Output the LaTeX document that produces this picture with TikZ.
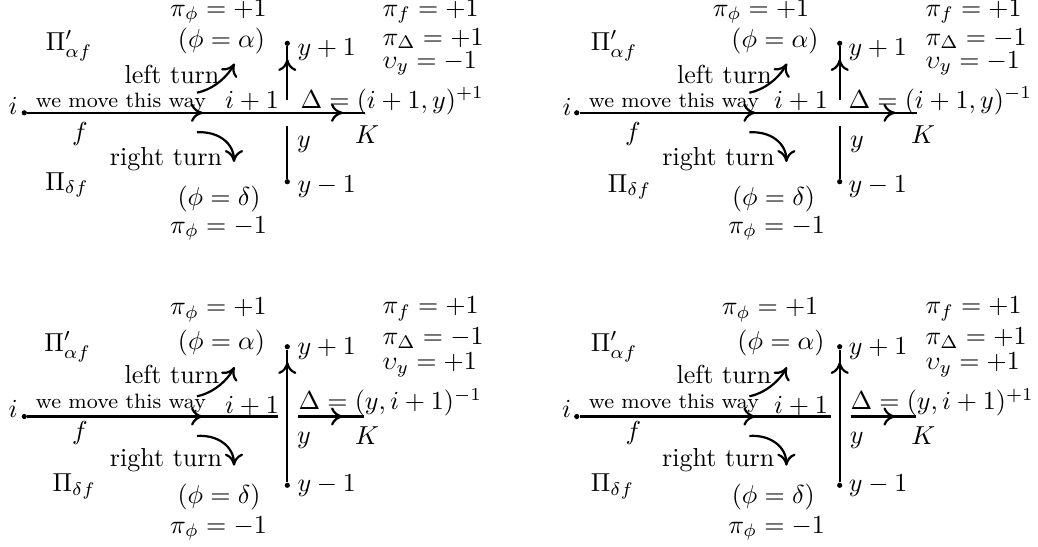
\documentclass[tikz,border=0pt]{standalone}
\usetikzlibrary{arrows.meta}
\tikzset{
  lbl/.style={inner sep=0pt, anchor=base},
  lblw/.style={inner sep=0pt, anchor=base west},
  ln/.style={line width=0.85pt},
  arr/.style={line width=0.85pt, -{To[length=4.6pt,width=7pt]}},
  dotn/.style={circle, fill, inner sep=0pt, minimum size=2pt},
}
% shapes of the upper panels (prefix #1)
\newcommand{\myshapesTop}[1]{%
  \node[dotn] (#1-i) at (24.3,112.8) {};
  \coordinate (#1-t1) at (203,112.8);
  \coordinate (#1-t2) at (343,112.8);
  \coordinate (#1-e) at (365,112.8);
  \draw[ln] (#1-i) -- (#1-e);
  \draw[arr] (#1-i) -- (#1-t1);
  \draw[arr] (#1-i) -- (#1-t2);
  \node[dotn] (#1-up) at (287.3,43.3) {};
  \node[dotn] (#1-dn) at (287.3,181.7) {};
  \coordinate (#1-v0) at (287.3,100);
  \coordinate (#1-v1) at (287.3,126);
  \coordinate (#1-vt) at (287.3,59);
  \draw[ln] (#1-v0) -- (#1-up);
  \draw[arr] (#1-v0) -- (#1-vt);
  \draw[ln] (#1-v1) -- (#1-dn);
  \coordinate (#1-ls) at (197,92.7);
  \coordinate (#1-le) at (234.5,63.5);
  \draw[arr] (#1-ls) .. controls (211,90) and (226,79) .. (#1-le);
  \coordinate (#1-rs) at (197,132.3);
  \coordinate (#1-re) at (234,162);
  \draw[arr] (#1-rs) .. controls (218,131) and (234,143) .. (#1-re);
}
% shapes of the lower panels (prefix #1)
\newcommand{\myshapesBot}[1]{%
  \node[dotn] (#1-i) at (24.3,416.5) {};
  \coordinate (#1-t1) at (203,416.5);
  \coordinate (#1-e1) at (278.3,416.5);
  \draw[ln] (#1-i) -- (#1-e1);
  \draw[arr] (#1-i) -- (#1-t1);
  \coordinate (#1-s2) at (298.3,416.5);
  \coordinate (#1-t2) at (343,416.5);
  \coordinate (#1-e2) at (364,416.5);
  \draw[ln] (#1-s2) -- (#1-e2);
  \draw[arr] (#1-s2) -- (#1-t2);
  \node[dotn] (#1-up) at (287.3,346.7) {};
  \node[dotn] (#1-dn) at (287.3,485.3) {};
  \coordinate (#1-vt) at (287.3,362);
  \draw[ln] (#1-dn) -- (#1-up);
  \draw[arr] (#1-dn) -- (#1-vt);
  \coordinate (#1-ls) at (197,396.3);
  \coordinate (#1-le) at (234.5,367.1);
  \draw[arr] (#1-ls) .. controls (211,393.6) and (226,382.6) .. (#1-le);
  \coordinate (#1-rs) at (197,435.9);
  \coordinate (#1-re) at (234,465.6);
  \draw[arr] (#1-rs) .. controls (218,434.6) and (234,446.6) .. (#1-re);
}
\begin{document}
\begin{tikzpicture}[x=0.3846pt,y=-0.3846pt]
\useasboundingbox (0,0) rectangle (1038,546);

\myshapesTop{a}
\begin{scope}[shift={(552.4,0)}]\myshapesTop{b}\end{scope}
\myshapesBot{c}
\begin{scope}[shift={(552.4,0)}]\myshapesBot{d}\end{scope}

% ---- panel 1 labels
\node[lbl] (a-pphi) at (218.5,16) {$\pi_\phi = +1$};
\node[lblw] (a-pf) at (382,16) {$\pi_f = +1$};
\node[lbl] (a-Pa) at (69,50) {$\Pi'_{\alpha f}$};
\node[lbl] (a-pa) at (221.5,47) {$(\phi = \alpha)$};
\node[lblw] (a-yp) at (297,55) {$y+1$};
\node[lblw] (a-pD) at (382,45) {$\pi_\Delta = +1$};
\node[lblw] (a-uy) at (382,68) {$\upsilon_y = -1$};
\node[lbl] (a-lt) at (172,83) {left turn};
\node[lbl] (a-ip) at (252,108) {$i+1$};
\node[lblw] (a-D) at (300,108) {$\Delta = (i+1,y)^{+1}$};
\node[lbl] (a-wm) at (121,107) {\footnotesize we move this way};
\node[lbl] (a-il) at (13,114.5) {$i$};
\node[lbl] (a-f) at (80,140) {$f$};
\node[lbl] (a-K) at (367,143) {$K$};
\node[lbl] (a-y) at (304,147) {$y$};
\node[lbl] (a-rt) at (166,165) {right turn};
\node[lbl] (a-Pd) at (67,190) {$\Pi_{\delta f}$};
\node[lblw] (a-ym) at (297,192) {$y-1$};
\node[lbl] (a-pd) at (219,205) {$(\phi = \delta)$};
\node[lbl] (a-pm) at (218.5,233) {$\pi_\phi = -1$};

% ---- panel 2 labels
\node[lbl] (b-pphi) at (761,16) {$\pi_\phi = +1$};
\node[lblw] (b-pf) at (925,16) {$\pi_f = +1$};
\node[lbl] (b-Pa) at (614,50) {$\Pi'_{\alpha f}$};
\node[lbl] (b-pa) at (775,47) {$(\phi = \alpha)$};
\node[lblw] (b-yp) at (848,55) {$y+1$};
\node[lblw] (b-pD) at (925,45) {$\pi_\Delta = -1$};
\node[lblw] (b-uy) at (925,68) {$\upsilon_y = -1$};
\node[lbl] (b-lt) at (724.5,83) {left turn};
\node[lbl] (b-ip) at (801,108) {$i+1$};
\node[lblw] (b-D) at (848,108) {$\Delta = (i+1,y)^{-1}$};
\node[lbl] (b-wm) at (674,107) {\footnotesize we move this way};
\node[lbl] (b-il) at (567,115) {$i$};
\node[lbl] (b-f) at (633,140) {$f$};
\node[lbl] (b-K) at (923,143) {$K$};
\node[lbl] (b-y) at (857,147) {$y$};
\node[lbl] (b-rt) at (718.5,165) {right turn};
\node[lbl] (b-Pd) at (629.5,192) {$\Pi_{\delta f}$};
\node[lblw] (b-ym) at (848,192) {$y-1$};
\node[lbl] (b-pd) at (773.5,205) {$(\phi = \delta)$};
\node[lbl] (b-pm) at (776.5,233) {$\pi_\phi = -1$};

% ---- panel 3 labels
\node[lbl] (c-pphi) at (218.5,314.7) {$\pi_\phi = +1$};
\node[lblw] (c-pf) at (382,313.7) {$\pi_f = +1$};
\node[lbl] (c-Pa) at (67.5,351.3) {$\Pi'_{\alpha f}$};
\node[lbl] (c-pa) at (221.5,349.7) {$(\phi = \alpha)$};
\node[lblw] (c-yp) at (297,354.7) {$y+1$};
\node[lblw] (c-pD) at (382,344.7) {$\pi_\Delta = -1$};
\node[lblw] (c-uy) at (382,369.7) {$\upsilon_y = +1$};
\node[lbl] (c-lt) at (172,383) {left turn};
\node[lbl] (c-ip) at (252,413) {$i+1$};
\node[lblw] (c-D) at (298,409.7) {$\Delta = (y,i+1)^{-1}$};
\node[lbl] (c-wm) at (121,408) {\footnotesize we move this way};
\node[lbl] (c-il) at (13,417) {$i$};
\node[lbl] (c-f) at (80,439.7) {$f$};
\node[lbl] (c-K) at (367,444.7) {$K$};
\node[lbl] (c-y) at (304,443) {$y$};
\node[lbl] (c-rt) at (166,466.3) {right turn};
\node[lbl] (c-Pd) at (74.2,491.3) {$\Pi_{\delta f}$};
\node[lblw] (c-ym) at (297,491.3) {$y-1$};
\node[lbl] (c-pd) at (219,503) {$(\phi = \delta)$};
\node[lbl] (c-pm) at (218.5,533) {$\pi_\phi = -1$};

% ---- panel 4 labels
\node[lbl] (d-pphi) at (770,314.7) {$\pi_\phi = +1$};
\node[lblw] (d-pf) at (925,313.7) {$\pi_f = +1$};
\node[lbl] (d-Pa) at (614,351) {$\Pi'_{\alpha f}$};
\node[lbl] (d-pa) at (781,349.7) {$(\phi = \alpha)$};
\node[lblw] (d-yp) at (848.3,354.7) {$y+1$};
\node[lblw] (d-pD) at (925,344.7) {$\pi_\Delta = +1$};
\node[lblw] (d-uy) at (925,369.7) {$\upsilon_y = +1$};
\node[lbl] (d-lt) at (724,383) {left turn};
\node[lbl] (d-ip) at (801,413) {$i+1$};
\node[lblw] (d-D) at (850,409.7) {$\Delta = (y,i+1)^{+1}$};
\node[lbl] (d-wm) at (674,408) {\footnotesize we move this way};
\node[lbl] (d-il) at (566.7,417) {$i$};
\node[lbl] (d-f) at (633.3,439.7) {$f$};
\node[lbl] (d-K) at (923.3,444.7) {$K$};
\node[lbl] (d-y) at (856.7,443) {$y$};
\node[lbl] (d-rt) at (718.3,466.3) {right turn};
\node[lbl] (d-Pd) at (612.5,491.3) {$\Pi_{\delta f}$};
\node[lblw] (d-ym) at (848.3,491.3) {$y-1$};
\node[lbl] (d-pd) at (773.3,503) {$(\phi = \delta)$};
\node[lbl] (d-pm) at (776.7,533) {$\pi_\phi = -1$};
\end{tikzpicture}
\end{document}
